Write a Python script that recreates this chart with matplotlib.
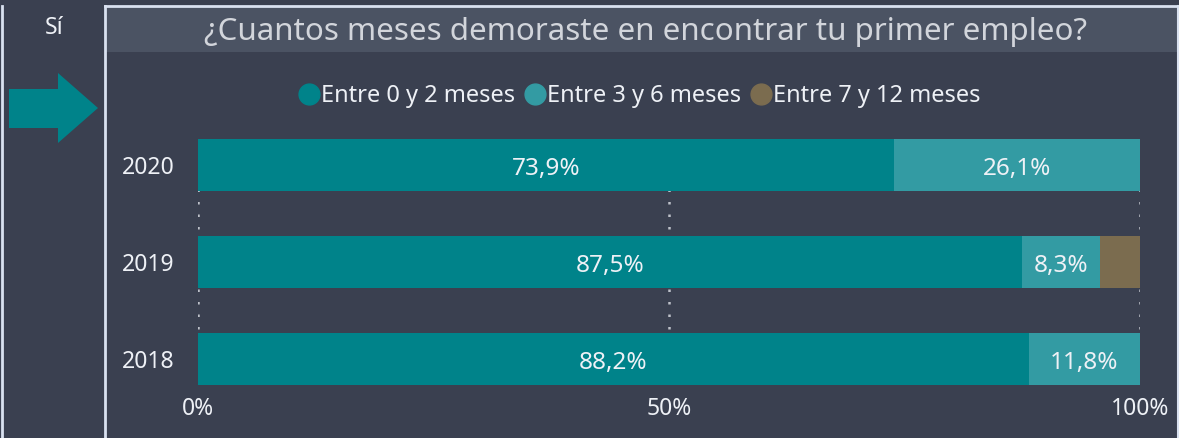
import matplotlib
matplotlib.use("Agg")
import matplotlib.pyplot as plt
from matplotlib.patches import Rectangle, Polygon
from matplotlib.lines import Line2D
import numpy as np

plt.rcParams['font.family'] = ['Noto Sans', 'DejaVu Sans']

years = ["2020", "2019", "2018"]
series_names = ["Entre 0 y 2 meses", "Entre 3 y 6 meses", "Entre 7 y 12 meses"]
s_0_2 = [73.9, 87.5, 88.2]
s_3_6 = [26.1, 8.3, 11.8]
s_7_12 = [0.0, 4.2, 0.0]
x_ticks = [0, 50, 100]
x_tick_labels = ["0%", "50%", "100%"]
title = "¿Cuantos meses demoraste en encontrar tu primer empleo?"
side_label = "Sí"

BG = "#3A4050"
BAND = "#4B5363"
BORDER = "#D9E1F0"
colors = ["#00838A", "#339BA3", "#7B6C4F"]
TXT = "#EEF1F6"

W, H = 1179, 438
fig = plt.figure(figsize=(W / 100, H / 100), dpi=100)
fig.patch.set_facecolor(BG)

# overlay axes in pixel coordinates for decorations
ov = fig.add_axes([0, 0, 1, 1])
ov.set_xlim(0, W)
ov.set_ylim(H, 0)
ov.axis("off")
ov.add_patch(Rectangle((106, 7), 1071, 45, color=BAND, lw=0))
ov.plot([105, 105], [6, H], color=BORDER, lw=2)
ov.plot([105, 1178], [6, 6], color=BORDER, lw=2)
ov.plot([1178, 1178], [6, H], color=BORDER, lw=1.5)
ov.plot([1.5, 1.5], [6, H], color=BORDER, lw=2)
ov.add_patch(Polygon([(9, 89), (58, 89), (58, 73), (98, 108), (58, 143), (58, 128), (9, 128)],
                     closed=True, color=colors[0], lw=0))
ov.text(646, 32, title, ha="center", va="center", color="#D2D5DB", fontsize=22.5,
        fontweight="light")
ov.text(54, 28, side_label, ha="center", va="center", color=TXT, fontsize=16.5)

# main chart axes
left_px, right_px = 198, 1140
top_px = 262 - 1.5 * 97
ylo = 2.33
bottom_px = 262 + (ylo - 1) * 97
ax = fig.add_axes([left_px / W, 1 - bottom_px / H, (right_px - left_px) / W, (bottom_px - top_px) / H])
ax.set_facecolor("none")
ax.set_xlim(0, 100)
ax.set_ylim(ylo, -0.5)
ypos = np.arange(len(years))
bh = 52 / 97

# dotted gridlines
ax.vlines(x_ticks, -bh / 2, 2 + bh / 2, colors="#BEC2CA", linestyles=(0, (1, 4)), lw=1.8, zorder=0)

lefts = np.zeros(len(years))
for vals, col, name in zip([s_0_2, s_3_6, s_7_12], colors, series_names):
    vals = np.array(vals)
    ax.barh(ypos, vals, left=lefts, height=bh, color=col, zorder=2, label=name)
    for y, l, v in zip(ypos, lefts, vals):
        if v >= 5:
            ax.text(l + v / 2, y + 0.04, f"{v:.1f}%".replace(".", ","), ha="center", va="center",
                    color=TXT, fontsize=17.5, zorder=3)
    lefts = lefts + vals

ax.set_yticks(ypos)
ax.set_yticklabels(years)
ax.set_xticks(x_ticks)
ax.set_xticklabels(x_tick_labels)
ax.tick_params(axis="both", length=0, colors=TXT, labelsize=16.5)
ax.tick_params(axis="y", pad=17)
ax.tick_params(axis="x", pad=4)
for sp in ax.spines.values():
    sp.set_visible(False)

handles = [Line2D([0], [0], marker="o", color="none", markerfacecolor=c, markeredgecolor=c,
                  markersize=15) for c in colors]
leg = fig.legend(handles, series_names, loc="center", bbox_to_anchor=(640 / W, 1 - 96 / H),
                 ncol=3, frameon=False, handlelength=0.85, handletextpad=0.1,
                 columnspacing=0.4, fontsize=17, borderaxespad=0)
for t in leg.get_texts():
    t.set_color(TXT)

fig.savefig("out.png", dpi=100, facecolor=BG)
